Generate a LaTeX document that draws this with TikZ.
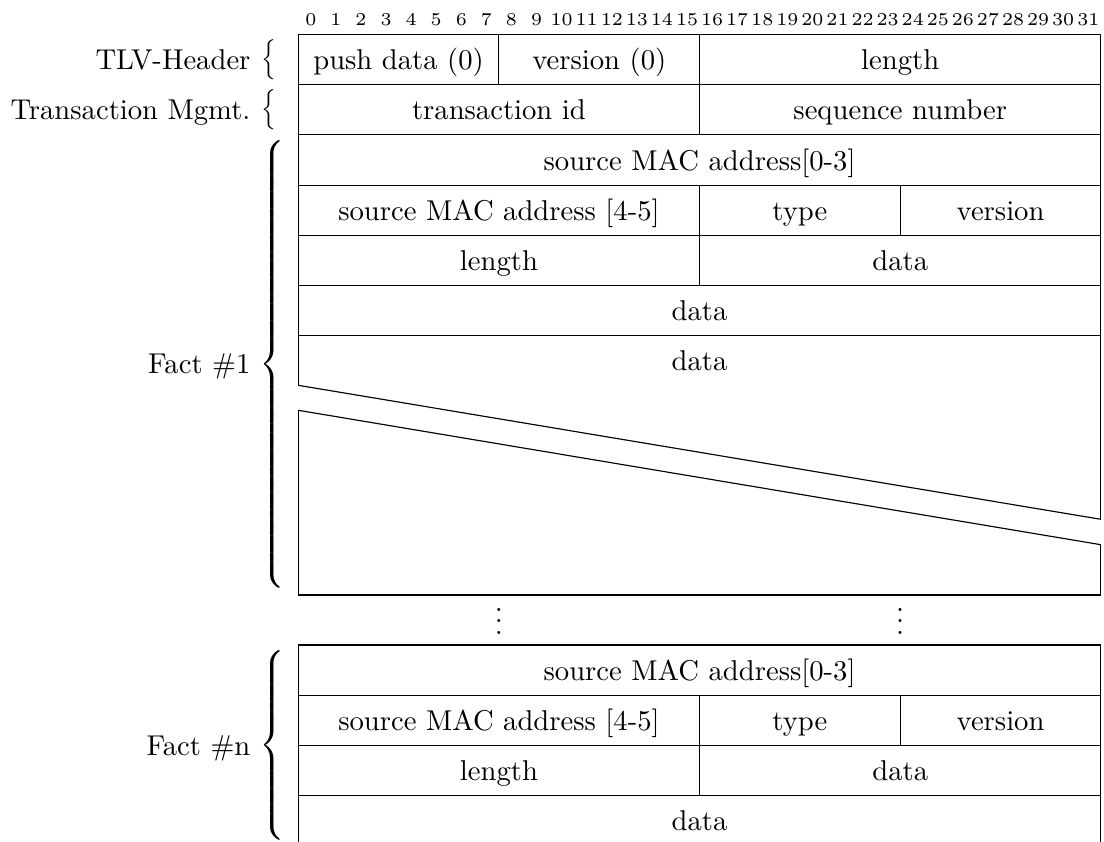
\documentclass[tikz,border=0pt]{standalone}
\usepackage{graphicx}
\begin{document}
\begin{tikzpicture}[x=0.349pt,y=-0.349pt,
  ln/.style={line width=0.4pt},
  cell/.style={inner sep=0pt, text height=0.7em, text depth=0pt},
  lbl/.style={inner sep=0pt, text height=0.7em, text depth=0pt, anchor=east},
  bitnum/.style={inner sep=0pt, anchor=base, font=\fontsize{6.3}{7.5}\selectfont},
  brc/.style={inner sep=0pt, anchor=west},
  dots/.style={inner sep=0pt, anchor=base}]
\useasboundingbox (0,0) rectangle (1104,842);
\clip (0,0) rectangle (1104,842);
\newcommand\bfcell[6]{\draw[ln] (#2,#3) rectangle (#4,#5);
  \node[cell] (#1) at ({(#2+#4)/2},{(#3+#5)/2}) {#6};}
% columns
\def\ca{298.3}\def\cb{498.9}\def\cc{699.6}\def\cd{900.2}\def\ce{1100.9}
% bit numbers
\foreach \i in {0,...,31}{
  \node[bitnum] (n\i) at ({298.3+25.08*(\i+0.5)},25) {\i};
}
% TLV header
\bfcell{push}{\ca}{34.5}{\cb}{84.7}{push data (0)}
\bfcell{ver}{\cb}{34.5}{\cc}{84.7}{version (0)}
\bfcell{len}{\cc}{34.5}{\ce}{84.7}{length}
% transaction mgmt
\bfcell{tid}{\ca}{84.7}{\cc}{134.9}{transaction id}
\bfcell{seq}{\cc}{84.7}{\ce}{134.9}{sequence number}
% Fact 1
\bfcell{srca}{\ca}{134.9}{\ce}{185.1}{source MAC address[0-3]}
\bfcell{srcb}{\ca}{185.1}{\cc}{235.3}{source MAC address [4-5]}
\bfcell{typea}{\cc}{185.1}{\cd}{235.3}{type}
\bfcell{vera}{\cd}{185.1}{\ce}{235.3}{version}
\bfcell{lena}{\ca}{235.3}{\cc}{285.5}{length}
\bfcell{dataa}{\cc}{235.3}{\ce}{285.5}{data}
\bfcell{datab}{\ca}{285.5}{\ce}{335.7}{data}
% big data box with skipped words
\draw[ln] (\ca,385.3) -- (\ca,335.7) -- (\ce,335.7) -- (\ce,519.3);
\draw[ln] (\ca,410.3) -- (\ca,595) -- (\ce,595) -- (\ce,544.7);
\draw[ln] (\ca,385.3) -- (\ce,519.3);
\draw[ln] (\ca,410.3) -- (\ce,544.7);
\node[cell] (datac) at ({(\ca+\ce)/2},360.8) {data};
% dots
\node[dots] (dl) at (\cb,634.3) {$\vdots$};
\node[dots] (dr) at (\cd,634.3) {$\vdots$};
% Fact n
\bfcell{srcna}{\ca}{645}{\ce}{695.2}{source MAC address[0-3]}
\bfcell{srcnb}{\ca}{695.2}{\cc}{745.4}{source MAC address [4-5]}
\bfcell{typen}{\cc}{695.2}{\cd}{745.4}{type}
\bfcell{vern}{\cd}{695.2}{\ce}{745.4}{version}
\bfcell{lenn}{\ca}{745.4}{\cc}{795.6}{length}
\bfcell{datan}{\cc}{745.4}{\ce}{795.6}{data}
\bfcell{datanb}{\ca}{795.6}{\ce}{845.8}{data}
% labels
\node[lbl] (ltlv) at (251,59.6) {TLV-Header};
\node[lbl] (ltm) at (251,109.8) {Transaction Mgmt.};
\node[lbl] (lf1) at (251,363) {Fact \#1};
\node[lbl] (lfn) at (251,745.4) {Fact \#n};
% braces
\node[brc] (btlv) at (261,59.6) {\scalebox{0.78}{$\Big\{$}};
\node[brc] (btm) at (261,109.8) {\scalebox{0.78}{$\Big\{$}};
\node[brc] (bf1) at (259,364.3) {$\left\{\vcenter{\hbox{\rule{0pt}{160pt}}}\right.$};
\node[brc] (bfn) at (259,745.4) {$\left\{\vcenter{\hbox{\rule{0pt}{66pt}}}\right.$};
\end{tikzpicture}
\end{document}
